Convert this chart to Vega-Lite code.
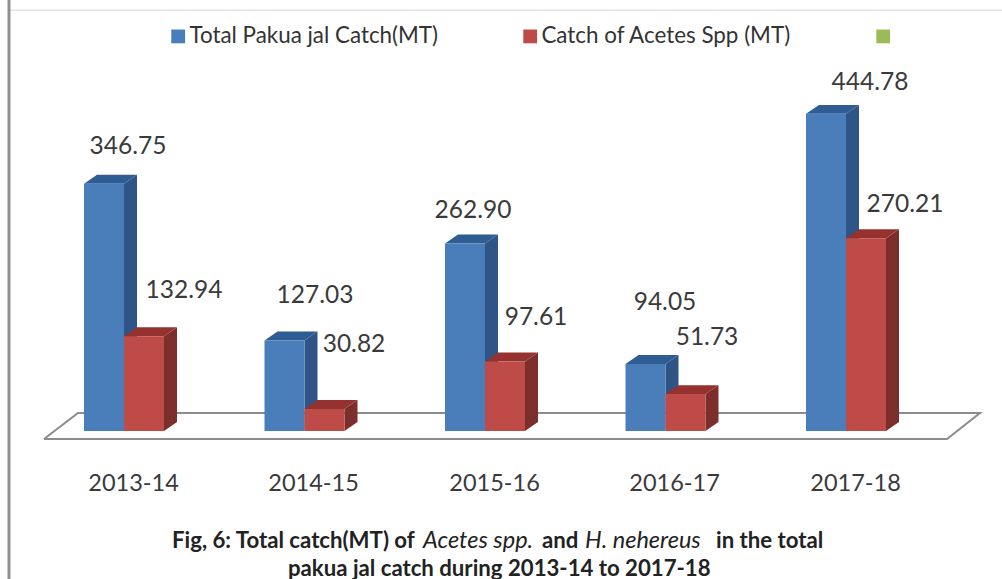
{
"$schema":"https://vega.github.io/schema/vega-lite/v6.json",
"width":1002,"height":579,"padding":0,"autosize":{"type":"none"},
"background":"white",
"config":{"view":{"stroke":null},"font":"Lato"},
"datasets":{
"catch":[
{"year":"2013-14","series":"Total Pakua jal Catch(MT)","value":346.75},
{"year":"2014-15","series":"Total Pakua jal Catch(MT)","value":127.03},
{"year":"2015-16","series":"Total Pakua jal Catch(MT)","value":262.90},
{"year":"2016-17","series":"Total Pakua jal Catch(MT)","value":94.05},
{"year":"2017-18","series":"Total Pakua jal Catch(MT)","value":444.78},
{"year":"2013-14","series":"Catch of Acetes Spp (MT)","value":132.94},
{"year":"2014-15","series":"Catch of Acetes Spp (MT)","value":30.82},
{"year":"2015-16","series":"Catch of Acetes Spp (MT)","value":97.61},
{"year":"2016-17","series":"Catch of Acetes Spp (MT)","value":51.73},
{"year":"2017-18","series":"Catch of Acetes Spp (MT)","value":270.21}
],
"floor":[
{"corner":1,"fx":44,"fv":-11.2},{"corner":2,"fx":78,"fv":25.2},{"corner":3,"fx":980,"fv":25.2},{"corner":4,"fx":947,"fv":-11.2},{"corner":5,"fx":44,"fv":-11.2}
],
"caption":[
{"t":"Fig, 6: Total catch(MT) of","cx":172,"cv":-164,"s":"n"},
{"t":"Acetes spp.","cx":423,"cv":-164,"s":"i"},
{"t":"and","cx":542,"cv":-164,"s":"n"},
{"t":"H. nehereus","cx":585,"cv":-164,"s":"i"},
{"t":"in the total","cx":716,"cv":-164,"s":"n"},
{"t":"pakua jal catch during 2013-14 to 2017-18","cx":288,"cv":-203,"s":"n"}
]
},
"layer":[
{"data":{"name":"floor"},"mark":{"type":"line","color":"#8c8c8c","strokeWidth":2},
 "encoding":{"x":{"field":"fx","type":"quantitative","scale":{"domain":[0,1002],"nice":false,"zero":false},"axis":{"values":[133,313,494,674,855],"labelExpr":"{'133':'2013-14','313':'2014-15','494':'2015-16','674':'2016-17','855':'2017-18'}[datum.value]","title":null,"domain":false,"ticks":false,"grid":false,"labelFontSize":23.5,"labelColor":"#3a3a3a","labelFont":"Lato","offset":-108,"labelPadding":0}},"y":{"field":"fv","type":"quantitative","scale":{"domain":[-207.57,604.49],"nice":false,"zero":false},"axis":null},"order":{"field":"corner"}}},
{"data":{"name":"catch"},
 "transform":[
  {"calculate":"84+180.5*indexof(['2013-14','2014-15','2015-16','2016-17','2017-18'],datum.year)+(datum.series[0]=='T'?0:40)","as":"x0"},
  {"calculate":"datum.year+datum.series","as":"key"},
  {"calculate":"[datum.x0+40,datum.x0+53]","as":"sx"},
  {"flatten":["sx"]},
  {"calculate":"datum.sx==datum.x0+40?0:12.6","as":"lift"},
  {"calculate":"datum.value+datum.lift","as":"sTop"},
  {"calculate":"'side'+datum.series[0]","as":"face"}
 ],
 "mark":{"type":"area","orient":"vertical","interpolate":"linear"},
 "encoding":{"x":{"field":"sx","type":"quantitative"},"y":{"field":"sTop","type":"quantitative"},"y2":{"field":"lift"},"detail":{"field":"key"},
  "color":{"field":"face","type":"nominal","legend":null,"scale":{"domain":["sideT","sideC","topT","topC"],"range":["#2f5486","#7b2e2c","#2f5c93","#95322f"]}}}},
{"data":{"name":"catch"},
 "transform":[
  {"calculate":"84+180.5*indexof(['2013-14','2014-15','2015-16','2016-17','2017-18'],datum.year)+(datum.series[0]=='T'?0:40)","as":"x0"},
  {"calculate":"datum.year+datum.series","as":"key"},
  {"calculate":"[0,13,40,53]","as":"k"},
  {"flatten":["k"]},
  {"calculate":"datum.x0+datum.k","as":"tx"},
  {"calculate":"datum.value+(datum.k==0?0:12.6)","as":"tHi"},
  {"calculate":"datum.value+(datum.k==53?12.6:0)","as":"tLo"},
  {"calculate":"'top'+datum.series[0]","as":"face"}
 ],
 "mark":{"type":"area","orient":"vertical","interpolate":"linear"},
 "encoding":{"x":{"field":"tx","type":"quantitative"},"y":{"field":"tHi","type":"quantitative"},"y2":{"field":"tLo"},"detail":{"field":"key"},
  "color":{"field":"face","type":"nominal","legend":null}}},
{"data":{"name":"catch"},
 "transform":[
  {"calculate":"84+180.5*indexof(['2013-14','2014-15','2015-16','2016-17','2017-18'],datum.year)+(datum.series[0]=='T'?0:40)","as":"x0"},
  {"calculate":"datum.x0+40","as":"x1"}
 ],
 "mark":{"type":"rect"},
 "encoding":{"x":{"field":"x0","type":"quantitative"},"x2":{"field":"x1"},"y":{"field":"value","type":"quantitative"},"y2":{"datum":0},
  "fill":{"field":"series","type":"nominal","title":null,
   "scale":{"domain":["Total Pakua jal Catch(MT)","Catch of Acetes Spp (MT)"," "],"range":["#4a7ebb","#be4b48","#9bbb59"]},
   "legend":{"orient":"none","legendX":167,"legendY":25,"direction":"horizontal","columns":3,"symbolType":"square","symbolSize":190,"symbolStrokeWidth":0,"labelFontSize":22.4,"labelColor":"#333333","labelFont":"Lato","labelLimit":400,"columnPadding":80,"labelOffset":0}}}},
{"data":{"name":"catch"},
 "transform":[
  {"calculate":"({'2013-14':[128,184],'2014-15':[315,354],'2015-16':[473,536],'2016-17':[665,707],'2017-18':[870,905]})[datum.year][datum.series[0]=='T'?0:1]","as":"lx"},
  {"calculate":"({'2013-14':[399,196],'2014-15':[190,121],'2015-16':[309,159],'2016-17':[179,131],'2017-18':[488,317]})[datum.year][datum.series[0]=='T'?0:1]","as":"lv"}
 ],
 "mark":{"type":"text","fontSize":24.5,"color":"#3a3a3a","font":"Lato"},
 "encoding":{"x":{"field":"lx","type":"quantitative"},"y":{"field":"lv","type":"quantitative"},"text":{"field":"value","type":"quantitative","format":".2f"}}},
{"data":{"name":"caption"},"transform":[{"filter":"datum.s=='n'"}],
 "mark":{"type":"text","align":"left","baseline":"alphabetic","fontSize":22.2,"fontWeight":"bold","color":"#222222","font":"Lato"},
 "encoding":{"x":{"field":"cx","type":"quantitative"},"y":{"field":"cv","type":"quantitative"},"text":{"field":"t"}}},
{"data":{"name":"caption"},"transform":[{"filter":"datum.s=='i'"}],
 "mark":{"type":"text","align":"left","baseline":"alphabetic","fontSize":23.5,"fontWeight":"normal","fontStyle":"italic","color":"#222222","font":"Lato"},
 "encoding":{"x":{"field":"cx","type":"quantitative"},"y":{"field":"cv","type":"quantitative"},"text":{"field":"t"}}},
{"data":{"values":[{"a":1}]},"mark":{"type":"rule","color":"#8f8f8f","strokeWidth":3},
 "encoding":{"x":{"datum":9,"type":"quantitative"}}},
{"data":{"values":[{"a":1}]},"mark":{"type":"rule","color":"#e4e4e4","strokeWidth":1.5},
 "encoding":{"x":{"datum":11,"type":"quantitative"},"x2":{"datum":1002},"y":{"datum":590,"type":"quantitative"}}}
]
}
